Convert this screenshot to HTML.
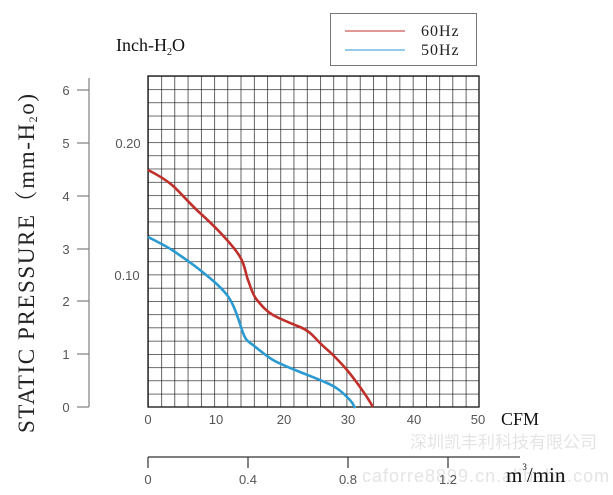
<!DOCTYPE html>
<html><head><meta charset="utf-8"><style>
html,body{margin:0;padding:0;background:#fff;width:613px;height:495px;overflow:hidden}
svg{display:block}
.s{font-family:"Liberation Serif","Noto Serif CJK SC",serif}
.a{font-family:"Liberation Sans",sans-serif;fill:#555}
</style></head><body>
<svg width="613" height="495" viewBox="0 0 613 495" xmlns="http://www.w3.org/2000/svg">
<defs>
<pattern id="p" x="148" y="76" width="13.24" height="13.24" patternUnits="userSpaceOnUse">
<path d="M0,0 H13.24 M0,0 V13.24" stroke="#111" stroke-width="1.3" fill="none"/>
</pattern>
</defs>
<rect width="613" height="495" fill="#fff"/>
<rect x="148" y="76" width="331" height="331" fill="url(#p)"/>
<rect x="148" y="76" width="331" height="331" fill="none" stroke="#111" stroke-width="1.3"/>
<text x="597" y="448" text-anchor="end" font-family="'Liberation Sans','Noto Sans CJK SC',sans-serif" font-size="17" fill="#e4e4e4">深圳凯丰利科技有限公司</text>
<text x="362" y="482" font-family="'Liberation Sans',sans-serif" font-size="18" fill="#e4e4e4" letter-spacing="1">caforre8899.cn.alibaba.com</text>
<path d="M148,170 C160,176 166,180 172,185 S190,204 200,213 S220,232 227,240 S240,255 243,263 S246,275 248,280 S252,294 257,300 S266,311 273,315 S290,323 300,327 S314,337 320,343 S329,351 333,355 S342,364 347,370 S355,380 360,387 S369,400 373,407" stroke="#c0302b" stroke-width="2.6" fill="none"/>
<path d="M148,237 C160,243 166,246 172,250 S190,262 200,270 S220,286 227,295 S238,318 242,330 S248,341 253,345 S266,356 273,360 S290,368 300,372 S318,379 327,383 S341,391 347,397 S353,404 355,408" stroke="#2a9ad0" stroke-width="2.6" fill="none"/>
<line x1="89" y1="78" x2="89" y2="407" stroke="#888" stroke-width="1.3"/>
<g stroke="#888" stroke-width="1.3">
<line x1="77" y1="90" x2="89" y2="90"/><line x1="77" y1="143" x2="89" y2="143"/><line x1="77" y1="196" x2="89" y2="196"/><line x1="77" y1="249" x2="89" y2="249"/><line x1="77" y1="301" x2="89" y2="301"/><line x1="77" y1="354" x2="89" y2="354"/><line x1="77" y1="407" x2="89" y2="407"/>
</g>
<g class="a" font-size="13" text-anchor="middle">
<text x="66" y="95">6</text><text x="66" y="148">5</text><text x="66" y="201">4</text><text x="66" y="254">3</text><text x="66" y="306">2</text><text x="66" y="359">1</text><text x="66" y="412">0</text>
<text x="128" y="148">0.20</text><text x="127" y="280">0.10</text>
<text x="148" y="424">0</text><text x="216" y="424">10</text><text x="284" y="424">20</text><text x="348" y="424">30</text><text x="414" y="424">40</text><text x="478" y="424">50</text>
<text x="148" y="484">0</text><text x="248" y="484">0.4</text><text x="348" y="484">0.8</text><text x="448" y="484">1.2</text>
</g>
<text class="s" x="501" y="425" font-size="18" fill="#111">CFM</text>
<line x1="148" y1="457" x2="520" y2="457" stroke="#333" stroke-width="1.2"/>
<g stroke="#333" stroke-width="1.2"><line x1="148" y1="457" x2="148" y2="468"/><line x1="248" y1="457" x2="248" y2="468"/><line x1="348" y1="457" x2="348" y2="468"/><line x1="448" y1="457" x2="448" y2="468"/></g>
<text class="s" x="506" y="482" font-size="21" fill="#111">m<tspan font-size="9" dy="-12">3</tspan><tspan dy="12">/min</tspan></text>
<text class="s" x="116" y="51" font-size="18" fill="#111">Inch-H<tspan font-size="10" dy="4">2</tspan><tspan dy="-4">O</tspan></text>
<text class="s" transform="translate(34,433) rotate(-90)" font-size="23" fill="#222" letter-spacing="1.6">STATIC PRESSURE（mm-H<tspan font-size="12" dy="3">2</tspan><tspan dy="-3">o)</tspan></text>
<rect x="330.5" y="13.5" width="146" height="52" fill="#fff" stroke="#777" stroke-width="1"/>
<line x1="345" y1="31" x2="405" y2="31" stroke="#c0302b" stroke-width="1"/>
<line x1="345" y1="50" x2="405" y2="50" stroke="#2a9ad0" stroke-width="1"/>
<text class="s" x="421" y="36" font-size="16" fill="#222" letter-spacing="1">60Hz</text>
<text class="s" x="421" y="55" font-size="16" fill="#222" letter-spacing="1">50Hz</text>
</svg>
</body></html>
